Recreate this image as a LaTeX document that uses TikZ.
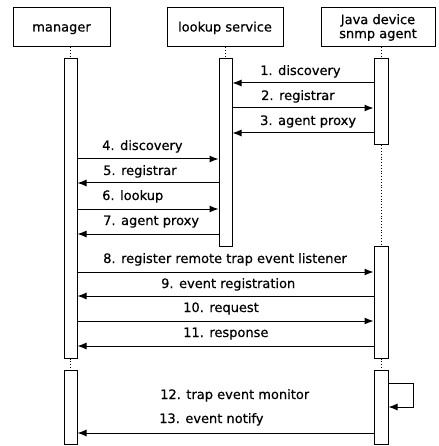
\documentclass[tikz,border=0pt]{standalone}
\usepackage{fontspec}
\setmainfont{DejaVu Sans}[FakeBold=0.6]
\usetikzlibrary{arrows.meta}
\begin{document}
\begin{tikzpicture}[x=1pt,y=-1pt,
  every node/.style={font=\fontsize{13}{14}\selectfont},
  hdr/.style={draw, line width=1pt, minimum height=39pt, inner sep=0pt},
  hdrone/.style={hdr, text height=9pt, text depth=1pt},
  bar/.style={draw, line width=1pt, fill=white, inner sep=0pt},
  life/.style={dotted, line width=0.8pt},
  msg/.style={line width=1pt, -{Latex[length=9pt,width=7pt]}},
  lbl/.style={anchor=base west, inner sep=0pt}]
\useasboundingbox (0,0) rectangle (438,446);

% headers
\node[hdrone, minimum width=97pt] (mgr) at (61.5,27.5) {manager};
\node[hdrone, minimum width=116pt] (lks) at (225,27.5) {lookup service};
\node[hdr, minimum width=114pt, align=center] (jv) at (378,27.5) {Java device\\snmp agent};

% activation bars (positions)
\coordinate (m1c) at (70.5,208.5);
\coordinate (m2c) at (70.5,407);
\coordinate (lkc) at (225.5,152.5);
\coordinate (j1c) at (381,102);
\coordinate (j2c) at (381,302);
\coordinate (j3c) at (381,407);

\node[bar, minimum width=13pt, minimum height=299pt] (m1) at (m1c) {};
\node[bar, minimum width=13pt, minimum height=74pt] (m2) at (m2c) {};
\node[bar, minimum width=13pt, minimum height=187pt] (lk) at (lkc) {};
\node[bar, minimum width=14pt, minimum height=86pt] (j1) at (j1c) {};
\node[bar, minimum width=14pt, minimum height=112pt] (j2) at (j2c) {};
\node[bar, minimum width=14pt, minimum height=74pt] (j3) at (j3c) {};

% lifelines
\draw[life] (m1.north |- mgr.south) -- (m1.north);
\draw[life] (lk.north |- lks.south) -- (lk.north);
\draw[life] (j1.north |- jv.south) -- (j1.north);
\draw[life] (j1.south) -- (j2.north);
\draw[life] (j2.south) -- (j3.north);
\draw[life] (m1.south) -- (m2.north);

% messages
\draw[msg] (j1.west |- 0,83) -- (lk.east |- 0,83);
\node[lbl] (t1) at (260,75) {1. discovery};
\draw[msg] (lk.east |- 0,108) -- (j1.west |- 0,108);
\node[lbl] (t2) at (261,100) {2. registrar};
\draw[msg] (j1.west |- 0,133) -- (lk.east |- 0,133);
\node[lbl] (t3) at (260,125) {3. agent proxy};

\draw[msg] (m1.east |- 0,159) -- (lk.west |- 0,159);
\node[lbl] (t4) at (102,150) {4. discovery};
\draw[msg] (lk.west |- 0,183) -- (m1.east |- 0,183);
\node[lbl] (t5) at (103,175) {5. registrar};
\draw[msg] (m1.east |- 0,209) -- (lk.west |- 0,209);
\node[lbl] (t6) at (102,200) {6. lookup};
\draw[msg] (lk.west |- 0,234) -- (m1.east |- 0,234);
\node[lbl] (t7) at (103,225) {7. agent proxy};

\draw[msg] (m1.east |- 0,272) -- (j2.west |- 0,272);
\node[lbl] (t8) at (103,263) {8. register remote trap event listener};
\draw[msg] (j2.west |- 0,296) -- (m1.east |- 0,296);
\node[lbl] (t9) at (161,288) {9. event registration};
\draw[msg] (m1.east |- 0,321) -- (j2.west |- 0,321);
\node[lbl] (t10) at (183,312) {10. request};
\draw[msg] (j2.west |- 0,346) -- (m1.east |- 0,346);
\node[lbl] (t11) at (183,337) {11. response};

\draw[msg] (j3.east |- 0,383) -- ++(25,0) |- (j3.east |- 0,407);
\node[lbl] (t12) at (160,399) {12. trap event monitor};
\draw[msg] (j3.west |- 0,433) -- (m2.east |- 0,433);
\node[lbl] (t13) at (159,423) {13. event notify};
\end{tikzpicture}
\end{document}
